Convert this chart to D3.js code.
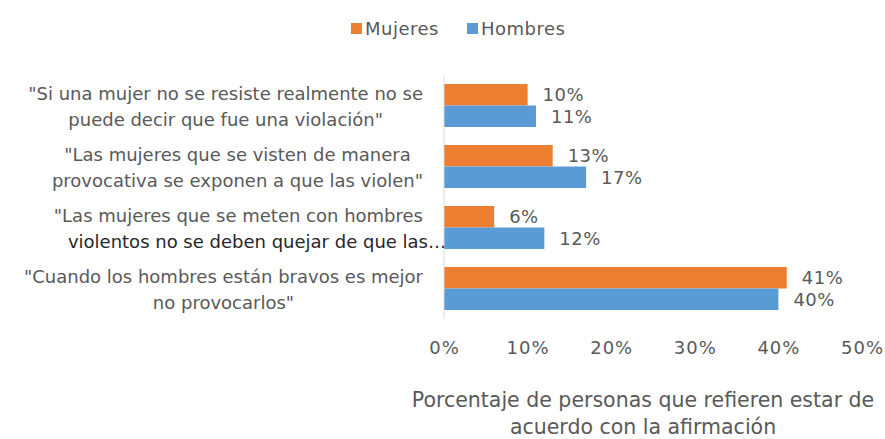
<!DOCTYPE html>
<html><head><meta charset="utf-8">
<script src="https://cdn.jsdelivr.net/npm/d3@7"></script>
<style>
html,body{margin:0;padding:0;background:#fff;}
svg{display:block;font-family:"DejaVu Sans",sans-serif;}
</style></head>
<body><svg id="chart" width="885" height="439"></svg>
<script>
const categories = [
  ["\"Si una mujer no se resiste realmente no se", "puede decir que fue una violación\""],
  ["\"Las mujeres que se visten de manera", "provocativa se exponen a que las violen\""],
  ["\"Las mujeres que se meten con hombres", "violentos no se deben quejar de que las…"],
  ["\"Cuando los hombres están bravos es mejor", "no provocarlos\""]
];
const seriesNames = ["Mujeres", "Hombres"];
const mujeres = [10, 13, 6, 41];
const hombres = [11, 17, 12, 40];
const xTicks = [0, 10, 20, 30, 40, 50];
const axisTitle = ["Porcentaje de personas que refieren estar de", "acuerdo con la afirmación"];
const colors = ["#ED7D31", "#5B9BD5"];

const svg = d3.select("#chart");
const textColor = "#595959";
const x = d3.scaleLinear().domain([0, 50]).range([444, 862]);
const catIdx = categories.map((d, i) => i);
const y = d3.scaleBand().domain(catIdx).range([75, 319]).paddingInner(0.295).paddingOuter(0.1475);
const ys = d3.scaleBand().domain(seriesNames).range([0, y.bandwidth()]);
const values = [mujeres, hombres];

// bars
const groups = svg.append("g").selectAll("g").data(catIdx).join("g")
  .attr("transform", i => `translate(0,${y(i)})`);
seriesNames.forEach((s, si) => {
  groups.append("rect")
    .attr("x", x(0))
    .attr("y", ys(s))
    .attr("width", i => x(values[si][i]) - x(0))
    .attr("height", ys.bandwidth())
    .attr("fill", colors[si]);
  groups.append("text")
    .attr("x", i => x(values[si][i]) + 15)
    .attr("y", ys(s) + ys.bandwidth() / 2)
    .attr("dy", "0.36em")
    .attr("font-size", 18)
    .attr("letter-spacing", 0.5)
    .attr("fill", textColor)
    .text(i => values[si][i] + "%");
});

// axis line (category axis)
svg.append("line").attr("x1", x(0)).attr("x2", x(0)).attr("y1", 75).attr("y2", 319)
  .attr("stroke", "#d9d9d9").attr("stroke-width", 1);

// x tick labels
const xAxis = d3.axisBottom(x).tickValues(xTicks).tickFormat(d => d + "%").tickSize(0).tickPadding(0);
const gx = svg.append("g").attr("transform", "translate(0,341)").call(xAxis);
gx.select(".domain").remove();
gx.selectAll("text").attr("font-size", 18).attr("letter-spacing", 1).attr("fill", textColor).attr("font-family", "DejaVu Sans");

// category labels
const lab = svg.append("g");
catIdx.forEach(i => {
  const cy = y(i) + y.bandwidth() / 2;
  const g = lab.append("g");
  const texts = categories[i].map((line, li) => g.append("text")
    .attr("y", cy + (li === 0 ? -12 : 14))
    .attr("dy", "0.36em")
    .attr("font-size", 18)
    .attr("text-anchor", "middle")
    .attr("fill", (i === 2 && li === 1) ? "#262626" : textColor)
    .text(line));
  const widths = texts.map(t => t.node().getComputedTextLength());
  const maxW = i === 2 ? widths[0] : Math.max(...widths);
  const cx = 423 - maxW / 2;
  texts.forEach((t, li) => {
    if (i === 2 && li === 1) t.attr("text-anchor", "end").attr("x", 446);
    else t.attr("x", cx);
  });
});

// axis title
axisTitle.forEach((line, li) => {
  svg.append("text").attr("x", 643).attr("y", 407 + li * 27)
    .attr("text-anchor", "middle").attr("font-size", 20.5).attr("fill", textColor).text(line);
});

// legend
const legend = svg.append("g");
const legX = [351, 467];
seriesNames.forEach((s, si) => {
  legend.append("rect").attr("x", legX[si]).attr("y", 23).attr("width", 11).attr("height", 11).attr("fill", colors[si]);
  legend.append("text").attr("x", legX[si] + 14).attr("y", 29).attr("dy", "0.36em")
    .attr("font-size", 18).attr("letter-spacing", 0.5).attr("fill", textColor).text(s);
});
</script></body></html>
